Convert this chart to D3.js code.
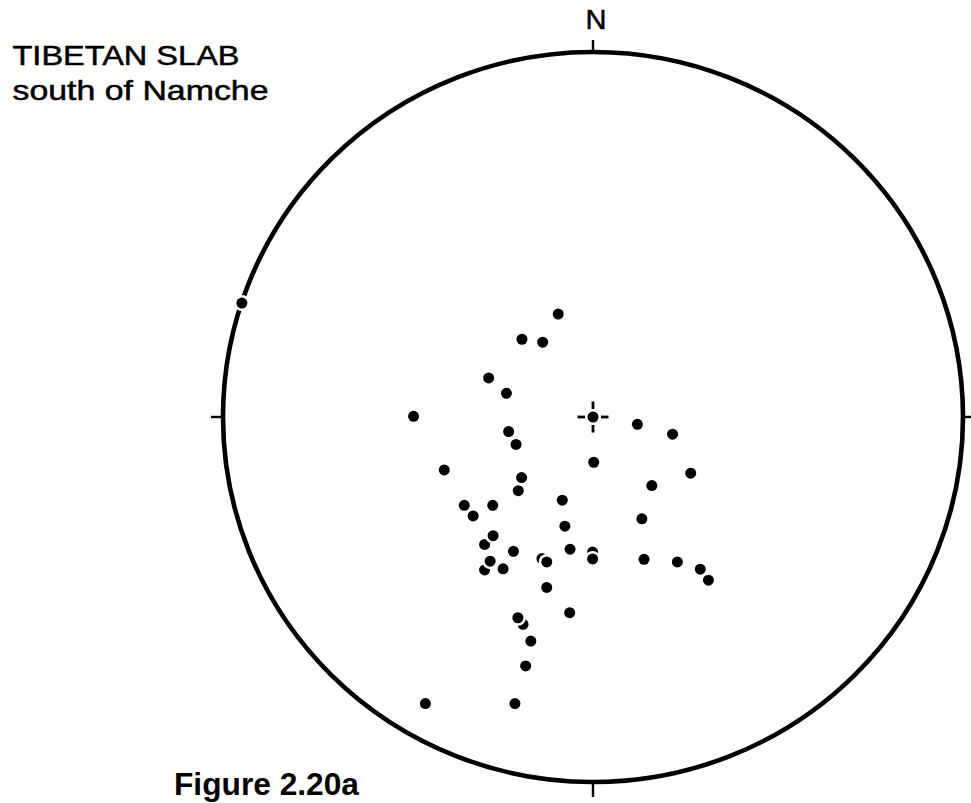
<!DOCTYPE html>
<html>
<head>
<meta charset="utf-8">
<script src="https://cdn.jsdelivr.net/npm/d3@7"></script>
<style>
  html, body { margin: 0; padding: 0; background: #fff; }
  svg { display: block; }
  text { font-family: "Liberation Sans", Arial, Helvetica, sans-serif; fill: #000; }
</style>
</head>
<body>
<svg id="chart" width="971" height="803"></svg>
<script>
// Projected stereonet coordinates (unit circle, x = east, y = north)
// Points listed in drawing order (partly hidden ones first).
const pointX = [
  -0.094, -0.192, -0.136, -0.282, -0.234, -0.485, -0.228, -0.208, -0.402, 0.002,
  -0.193, -0.202, 0.120, 0.215, 0.264, 0.159, -0.348, -0.271, -0.324, -0.083,
  0.132, -0.076, -0.293, -0.270, -0.215, -0.062, -0.001, -0.001, -0.293, -0.278,
  -0.138, -0.125, -0.243, 0.138, 0.228, 0.290, 0.312, -0.125, -0.063, -0.189,
  -0.203, -0.168, -0.182, -0.453, -0.211, -0.949
];
const pointY = [
  0.282, 0.213, 0.205, 0.107, 0.065, 0.002, -0.040, -0.075, -0.145, -0.124,
  -0.166, -0.202, -0.020, -0.047, -0.154, -0.188, -0.242, -0.242, -0.271, -0.228,
  -0.279, -0.299, -0.349, -0.325, -0.368, -0.362, -0.370, -0.389, -0.419, -0.395,
  -0.388, -0.397, -0.416, -0.390, -0.397, -0.417, -0.447, -0.467, -0.536, -0.568,
  -0.550, -0.614, -0.682, -0.785, -0.785, 0.312
];
// Centre marker (mean / pole)
const markerX = [0.0];
const markerY = [0.0];

const titleLines = ["TIBETAN SLAB", "south of Namche"];
const figureLabel = "Figure 2.20a";
const northLabel = "N";

const points = pointX.map((v, i) => ({ x: v, y: pointY[i] }));

const svg = d3.select("#chart");
const x = d3.scaleLinear().domain([-1, 1]).range([223, 963]);
const y = d3.scaleLinear().domain([-1, 1]).range([782, 52]);

const cx = x(0), cy = y(0);
const rx = x(1) - x(0), ry = y(0) - y(1);

// Primitive circle
svg.append("ellipse")
  .attr("cx", cx).attr("cy", cy)
  .attr("rx", rx).attr("ry", ry)
  .attr("fill", "none")
  .attr("stroke", "#000")
  .attr("stroke-width", 4.6);

// Cardinal ticks
const ticks = [
  { x1: x(0), y1: y(1), x2: x(0), y2: y(1) - 12 },
  { x1: x(0), y1: y(-1), x2: x(0), y2: y(-1) + 15 },
  { x1: x(-1), y1: y(0), x2: x(-1) - 12, y2: y(0) },
  { x1: x(1), y1: y(0), x2: x(1) + 12, y2: y(0) }
];
svg.selectAll("line.tick").data(ticks).enter().append("line")
  .attr("class", "tick")
  .attr("x1", d => d.x1).attr("y1", d => d.y1)
  .attr("x2", d => d.x2).attr("y2", d => d.y2)
  .attr("stroke", "#000").attr("stroke-width", 2.4);

// Data points with white halo
const g = svg.selectAll("g.pt").data(points).enter().append("g").attr("class", "pt");
g.append("circle")
  .attr("cx", d => x(d.x)).attr("cy", d => y(d.y))
  .attr("r", 8).attr("fill", "#fff");
g.append("circle")
  .attr("cx", d => x(d.x)).attr("cy", d => y(d.y))
  .attr("r", 5.5).attr("fill", "#000");

// Centre marker: dot with four dashes
const markers = markerX.map((v, i) => ({ x: v, y: markerY[i] }));
markers.forEach(m => {
  const mx = x(m.x), my = y(m.y);
  svg.append("circle").attr("cx", mx).attr("cy", my).attr("r", 5.5).attr("fill", "#000");
  const segs = [[0, -1], [0, 1], [-1, 0], [1, 0]];
  segs.forEach(([dx, dy]) => {
    svg.append("line")
      .attr("x1", mx + dx * 8).attr("y1", my + dy * 8)
      .attr("x2", mx + dx * 15.5).attr("y2", my + dy * 15.5)
      .attr("stroke", "#000").attr("stroke-width", 2.8);
  });
});

// Labels
svg.append("text")
  .attr("x", 596).attr("y", 28.5)
  .attr("text-anchor", "middle")
  .attr("font-size", 28)
  .attr("stroke", "#000").attr("stroke-width", 0.5)
  .attr("textLength", 21)
  .attr("lengthAdjust", "spacingAndGlyphs")
  .text(northLabel);

const titleWidths = [227, 256];
titleLines.forEach((t, i) => {
  svg.append("text")
    .attr("x", 12.5).attr("y", 65 + i * 35)
    .attr("font-size", 28)
    .attr("stroke", "#000").attr("stroke-width", 0.5)
    .attr("textLength", titleWidths[i])
    .attr("lengthAdjust", "spacingAndGlyphs")
    .text(t);
});

svg.append("text")
  .attr("x", 174).attr("y", 795)
  .attr("font-size", 31)
  .attr("font-weight", "bold")
  .attr("textLength", 185)
  .attr("lengthAdjust", "spacingAndGlyphs")
  .text(figureLabel);
</script>
</body>
</html>
